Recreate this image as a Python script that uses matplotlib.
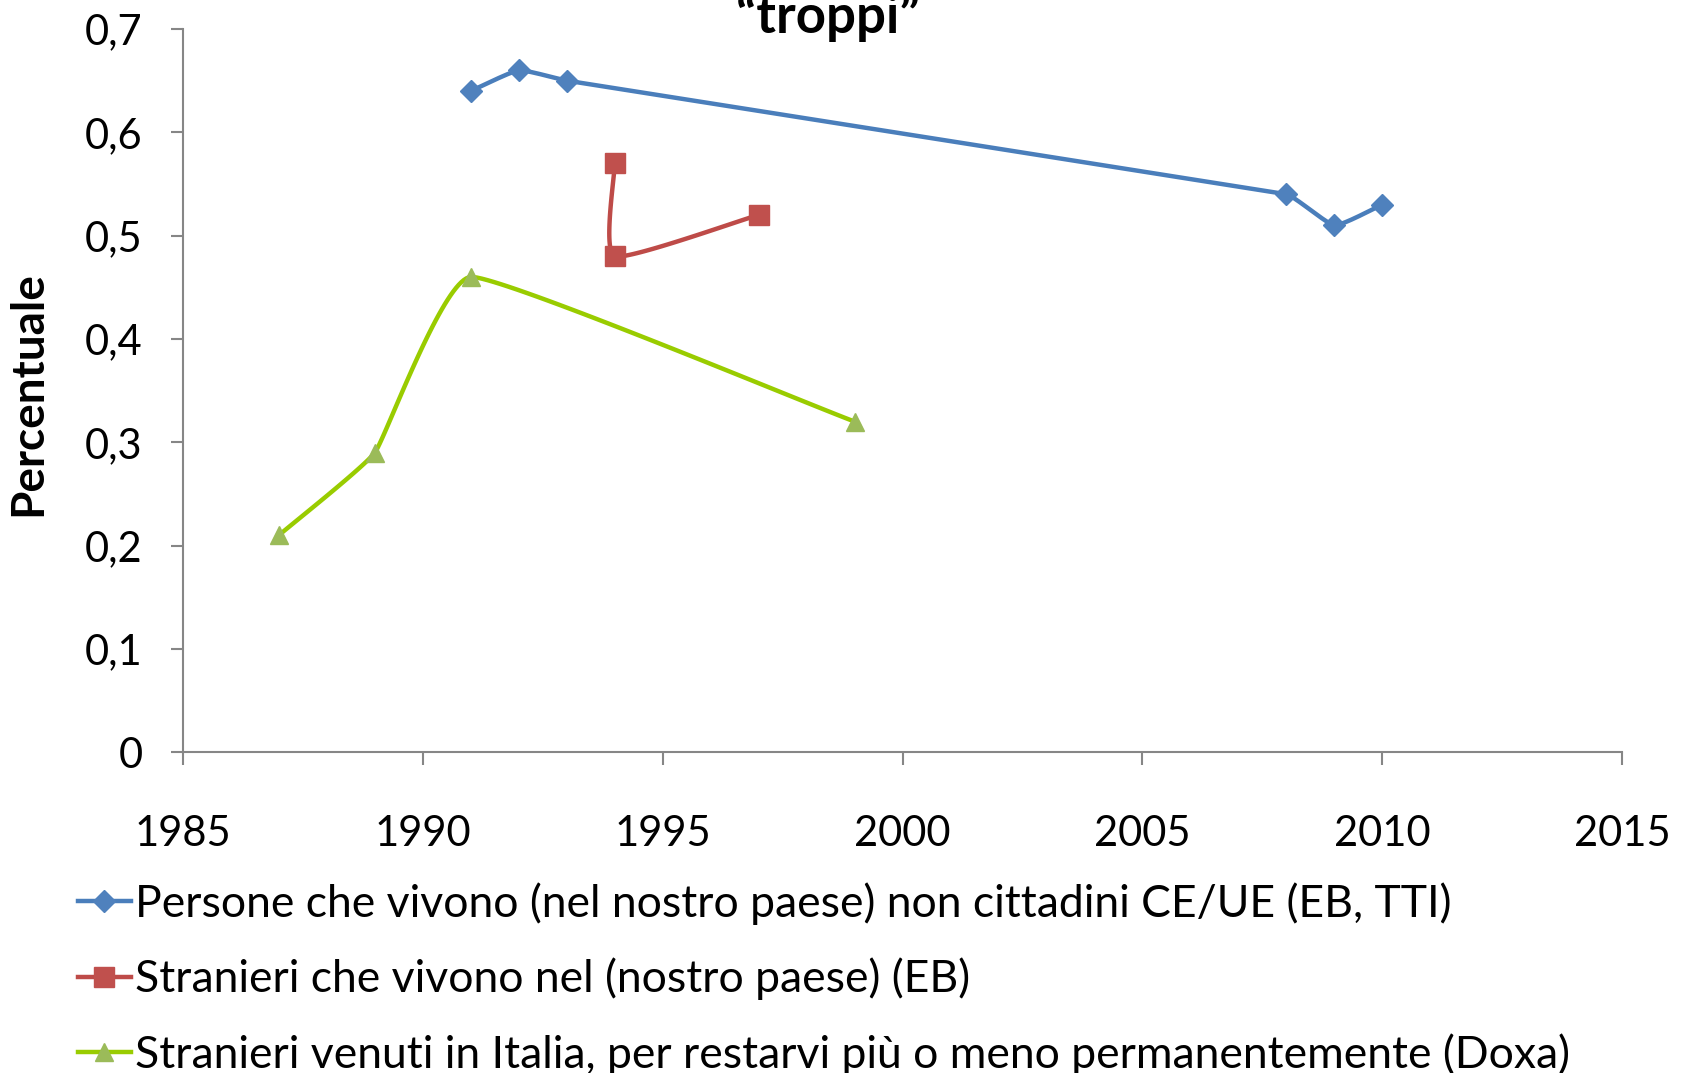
import numpy as np
import matplotlib
matplotlib.use("Agg")
import matplotlib.pyplot as plt
from matplotlib.lines import Line2D
from matplotlib.ticker import FuncFormatter

plt.rcParams['font.family'] = ['Lato', 'DejaVu Sans']

# data
persone_x = [1991, 1992, 1993, 2008, 2009, 2010]
persone_y = [0.64, 0.66, 0.65, 0.54, 0.51, 0.53]
stranieri_x = [1994, 1994, 1997]
stranieri_y = [0.57, 0.48, 0.52]
doxa_x = [1987, 1989, 1991, 1999]
doxa_y = [0.21, 0.29, 0.46, 0.32]

labels = [
    "Persone che vivono (nel nostro paese) non cittadini CE/UE (EB, TTI)",
    "Stranieri che vivono nel (nostro paese) (EB)",
    "Stranieri venuti in Italia, per restarvi più o meno permanentemente (Doxa)",
]
line_colors = ['#4A7EBB', '#BE4B48', '#99CC00']
marker_colors = ['#4F81BD', '#C0504D', '#9BBB59']
markers = ['D', 's', '^']
msizes = [11, 14, 13]

fig = plt.figure(figsize=(16.88, 10.73), dpi=100)
ax = fig.add_axes([0.1084, 0.299, 0.8526, 0.674])
ax.set_xlim(1985, 2015)
ax.set_ylim(0, 0.7)


def smooth(xs, ys, n=40, k=0.14):
    # bezier smoothing in screen space; handles limited by the shorter neighbouring segment
    pts = ax.transData.transform(np.column_stack([xs, ys]))
    out = [pts[0]]
    t = np.linspace(0, 1, n)[1:, None]

    def unit(v):
        return v / np.hypot(*v)

    seglen = [np.hypot(*(pts[j + 1] - pts[j])) for j in range(len(pts) - 1)]
    for i in range(len(pts) - 1):
        p0 = pts[i - 1] if i > 0 else pts[i]
        p1 = pts[i]
        p2 = pts[i + 1]
        p3 = pts[i + 2] if i + 2 < len(pts) else pts[i + 1]
        L = seglen[i]
        L1 = min(L, seglen[i - 1]) if i > 0 else L
        L2 = min(L, seglen[i + 1]) if i + 1 < len(seglen) else L
        c1 = p1 + unit(p2 - p0) * L1 * k
        c2 = p2 - unit(p3 - p1) * L2 * k
        seg = (1 - t) ** 3 * p1 + 3 * (1 - t) ** 2 * t * c1 + 3 * (1 - t) * t ** 2 * c2 + t ** 3 * p2
        out.extend(seg)
    out = ax.transData.inverted().transform(np.array(out))
    return out[:, 0], out[:, 1]


series = [(persone_x, persone_y), (stranieri_x, stranieri_y), (doxa_x, doxa_y)]
handles = []
for (xs, ys), lc, mc, m, ms, lab in zip(series, line_colors, marker_colors, markers, msizes, labels):
    sx, sy = smooth(xs, ys)
    ax.plot(sx, sy, color=lc, lw=3.2, solid_capstyle='butt', zorder=2)
    ax.plot(xs, ys, ls='none', marker=m, ms=ms, color=mc, mec=mc, zorder=3)
    handles.append(Line2D([], [], color=lc, lw=3.2, marker=m, ms=ms, mfc=mc, mec=mc, label=lab))

ax.set_xticks(np.arange(1985, 2016, 5))
ax.set_yticks(np.arange(0, 0.71, 0.1))
ax.yaxis.set_major_formatter(FuncFormatter(lambda v, p: ('%.1f' % v).replace('.', ',') if v > 0.001 else '0'))
for s in ['top', 'right']:
    ax.spines[s].set_visible(False)
for s in ['left', 'bottom']:
    ax.spines[s].set_color('#868686')
    ax.spines[s].set_linewidth(1.5)
ax.tick_params(axis='both', direction='out', length=9, width=1.5, color='#868686', labelsize=30)
ax.tick_params(axis='y', pad=20)
ax.tick_params(axis='x', pad=36)

fig.text(0.0166, 0.633, 'Percentuale', rotation=90, ha='center', va='center',
         fontsize=33, fontweight='bold')
fig.text(0.4905, 0.969, '\u201ctroppi\u201d', ha='center', va='baseline', fontsize=38, fontweight='bold')

fig.legend(handles=handles, loc='upper left', bbox_to_anchor=(0.046, 0.178), frameon=False,
           fontsize=32, handlelength=1.2, handletextpad=0.1, labelspacing=0.74,
           borderaxespad=0, borderpad=0, numpoints=1)

fig.savefig('out.png', dpi=100)
